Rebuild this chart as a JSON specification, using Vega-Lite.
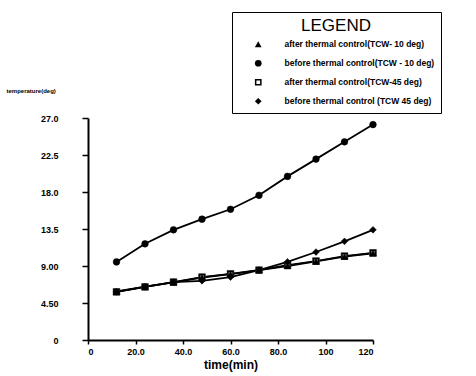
{
  "$schema": "https://vega.github.io/schema/vega-lite/v6.json",
  "width": 285,
  "height": 222,
  "autosize": "none",
  "padding": {"left": 88, "top": 118, "right": 103, "bottom": 36},
  "background": "white",
  "config": {
    "view": {"stroke": null},
    "font": "Liberation Sans",
    "legend": {
      "titleAnchor": "middle", "titleFontSize": 17, "titleFontWeight": "normal", "titleColor": "black",
      "titlePadding": 5,
      "labelFontSize": 8.5, "labelFontWeight": "bold", "labelColor": "black", "labelLimit": 300,
      "labelOffset": 22, "symbolOffset": 16,
      "symbolSize": 45, "symbolStrokeWidth": 1, "symbolStrokeColor": "black", "symbolFillColor": "black",
      "rowPadding": 7, "padding": 6,
      "strokeColor": "black", "fillColor": "white"
    }
  },
  "data": {
    "values": [
      {"t": 12, "temp": 5.9, "series": "after thermal control(TCW- 10 deg)"},
      {"t": 24, "temp": 6.5, "series": "after thermal control(TCW- 10 deg)"},
      {"t": 36, "temp": 7.0, "series": "after thermal control(TCW- 10 deg)"},
      {"t": 48, "temp": 7.6, "series": "after thermal control(TCW- 10 deg)"},
      {"t": 60, "temp": 8.0, "series": "after thermal control(TCW- 10 deg)"},
      {"t": 72, "temp": 8.5, "series": "after thermal control(TCW- 10 deg)"},
      {"t": 84, "temp": 9.0, "series": "after thermal control(TCW- 10 deg)"},
      {"t": 96, "temp": 9.55, "series": "after thermal control(TCW- 10 deg)"},
      {"t": 108, "temp": 10.15, "series": "after thermal control(TCW- 10 deg)"},
      {"t": 120, "temp": 10.55, "series": "after thermal control(TCW- 10 deg)"},
      {"t": 12, "temp": 9.5, "series": "before thermal control(TCW - 10 deg)"},
      {"t": 24, "temp": 11.7, "series": "before thermal control(TCW - 10 deg)"},
      {"t": 36, "temp": 13.4, "series": "before thermal control(TCW - 10 deg)"},
      {"t": 48, "temp": 14.7, "series": "before thermal control(TCW - 10 deg)"},
      {"t": 60, "temp": 15.9, "series": "before thermal control(TCW - 10 deg)"},
      {"t": 72, "temp": 17.6, "series": "before thermal control(TCW - 10 deg)"},
      {"t": 84, "temp": 19.9, "series": "before thermal control(TCW - 10 deg)"},
      {"t": 96, "temp": 22.0, "series": "before thermal control(TCW - 10 deg)"},
      {"t": 108, "temp": 24.1, "series": "before thermal control(TCW - 10 deg)"},
      {"t": 120, "temp": 26.2, "series": "before thermal control(TCW - 10 deg)"},
      {"t": 12, "temp": 5.85, "series": "after thermal control(TCW-45 deg)"},
      {"t": 24, "temp": 6.45, "series": "after thermal control(TCW-45 deg)"},
      {"t": 36, "temp": 7.05, "series": "after thermal control(TCW-45 deg)"},
      {"t": 48, "temp": 7.65, "series": "after thermal control(TCW-45 deg)"},
      {"t": 60, "temp": 8.05, "series": "after thermal control(TCW-45 deg)"},
      {"t": 72, "temp": 8.5, "series": "after thermal control(TCW-45 deg)"},
      {"t": 84, "temp": 9.1, "series": "after thermal control(TCW-45 deg)"},
      {"t": 96, "temp": 9.6, "series": "after thermal control(TCW-45 deg)"},
      {"t": 108, "temp": 10.2, "series": "after thermal control(TCW-45 deg)"},
      {"t": 120, "temp": 10.6, "series": "after thermal control(TCW-45 deg)"},
      {"t": 12, "temp": 5.85, "series": "before thermal control (TCW 45 deg)"},
      {"t": 24, "temp": 6.45, "series": "before thermal control (TCW 45 deg)"},
      {"t": 36, "temp": 7.05, "series": "before thermal control (TCW 45 deg)"},
      {"t": 48, "temp": 7.2, "series": "before thermal control (TCW 45 deg)"},
      {"t": 60, "temp": 7.65, "series": "before thermal control (TCW 45 deg)"},
      {"t": 72, "temp": 8.5, "series": "before thermal control (TCW 45 deg)"},
      {"t": 84, "temp": 9.5, "series": "before thermal control (TCW 45 deg)"},
      {"t": 96, "temp": 10.7, "series": "before thermal control (TCW 45 deg)"},
      {"t": 108, "temp": 12.0, "series": "before thermal control (TCW 45 deg)"},
      {"t": 120, "temp": 13.4, "series": "before thermal control (TCW 45 deg)"}
    ]
  },
  "encoding": {
    "x": {
      "field": "t", "type": "quantitative",
      "scale": {"domain": [0, 120], "nice": false, "zero": false},
      "axis": {
        "values": [0, 20, 40, 60, 80, 100, 120],
        "labelExpr": "datum.value == 0 ? '0' : (datum.value >= 100 ? format(datum.value, 'd') : format(datum.value, '.1f'))",
        "title": "time(min)",
        "titleFontSize": 12, "titleFontWeight": "bold", "titlePadding": 3,
        "labelFontSize": 9, "labelFontWeight": "bold", "labelPadding": 3,
        "domainColor": "black", "domainWidth": 2,
        "tickColor": "black", "tickSize": 4, "tickWidth": 1.5,
        "labelColor": "black", "titleColor": "black", "grid": false
      }
    },
    "y": {
      "field": "temp", "type": "quantitative",
      "scale": {"domain": [0, 27], "nice": false},
      "axis": {
        "values": [0, 4.5, 9, 13.5, 18, 22.5, 27],
        "labelExpr": "datum.value == 0 ? '0' : (datum.value < 10 ? format(datum.value, '.2f') : format(datum.value, '.1f'))",
        "title": "temperature(deg)",
        "titleAngle": 0, "titleAlign": "left", "titleBaseline": "middle",
        "titleX": -82, "titleY": -28,
        "titleFontSize": 6, "titleFontWeight": "bold", "titleColor": "black",
        "labelFontSize": 9, "labelFontWeight": "bold", "labelPadding": 24, "labelColor": "black",
        "domainColor": "black", "domainWidth": 2,
        "tickColor": "black", "tickSize": 6, "tickWidth": 1.5, "grid": false
      }
    }
  },
  "layer": [
    {
      "mark": {"type": "line", "color": "black", "strokeWidth": 1.8},
      "encoding": {"detail": {"field": "series"}}
    },
    {
      "transform": [{"filter": "datum.series == 'after thermal control(TCW-45 deg)'"}],
      "mark": {"type": "square", "color": "white", "size": 45, "opacity": 1}
    },
    {
      "mark": {"type": "point", "filled": true, "color": "black", "stroke": "black", "strokeWidth": 0.5, "size": 45, "opacity": 1},
      "encoding": {
        "shape": {
          "field": "series", "type": "nominal",
          "scale": {
            "domain": ["after thermal control(TCW- 10 deg)", "before thermal control(TCW - 10 deg)", "after thermal control(TCW-45 deg)", "before thermal control (TCW 45 deg)"],
            "range": ["triangle-up", "circle", "M-1,-1H1V1H-1Z M-0.55,-0.55V0.55H0.55V-0.55Z", "diamond"]
          },
          "legend": {
            "title": "LEGEND",
            "orient": "none", "legendX": 144, "legendY": -106,
            "encode": {
              "legend": {"update": {"strokeWidth": {"value": 2}}}
            }
          }
        }
      }
    }
  ]
}
